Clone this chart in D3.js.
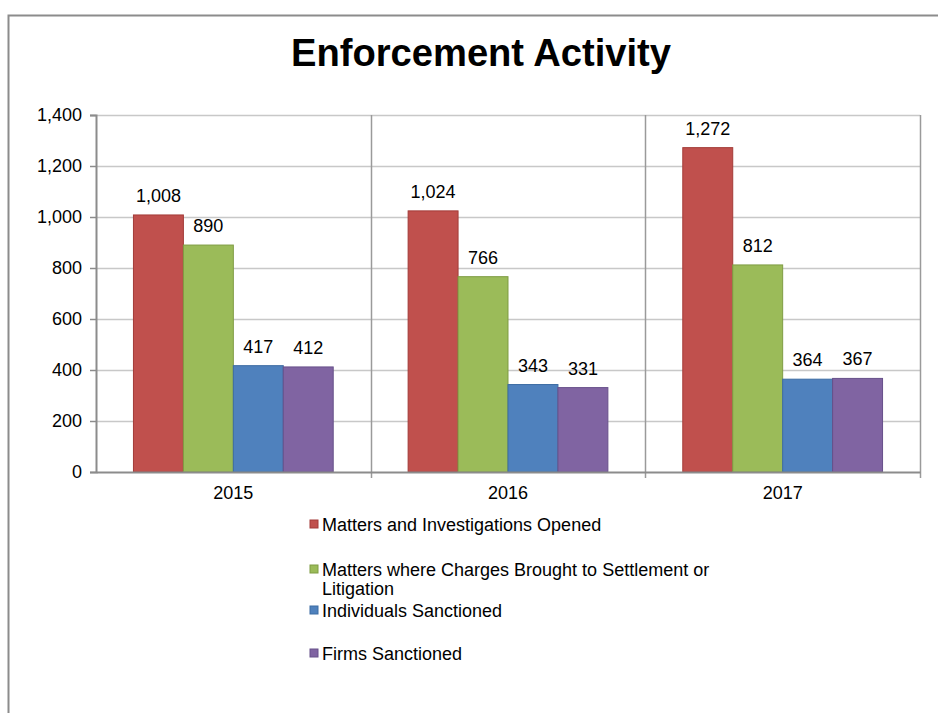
<!DOCTYPE html>
<html>
<head>
<meta charset="utf-8">
<script src="https://cdn.jsdelivr.net/npm/d3@7"></script>
<style>
  body { margin: 0; background: #fff; }
  text { font-family: "Liberation Sans", Arial, sans-serif; fill: #000; }
</style>
</head>
<body>
<div id="chart"></div>
<script>
// data
var years = ["2015", "2016", "2017"];
var seriesNames = [
  "Matters and Investigations Opened",
  "Matters where Charges Brought to Settlement or Litigation",
  "Individuals Sanctioned",
  "Firms Sanctioned"
];
var opened = [1008, 1024, 1272];
var charges = [890, 766, 812];
var individuals = [417, 343, 364];
var firms = [412, 331, 367];
var yTicks = [0, 200, 400, 600, 800, 1000, 1200, 1400];
var colors = ["#c0504d", "#9bbb59", "#4f81bd", "#8064a2"];
var strokes = ["#a33b38", "#7f9c43", "#3d6ca3", "#67508a"];

var width = 938, height = 713;
var margin = ({top: 115, right: 18, bottom: 241, left: 96});
var fs = '18px';

var allSeries = [opened, charges, individuals, firms];

var svg = d3.select('#chart')
  .append('svg')
    .attr('width', width)
    .attr('height', height);

// outer frame (left + top only)
svg.append('path')
  .attr('d', `M8.5,${height} L8.5,15.5 L${width},15.5`)
  .attr('fill', 'none')
  .attr('stroke', '#8c8c8c')
  .attr('stroke-width', 2);

svg.append('text')
  .attr('x', 481)
  .attr('y', 66)
  .attr('text-anchor', 'middle')
  .attr('font-size', '38px')
  .attr('font-weight', 'bold')
  .attr('textLength', 380)
  .attr('lengthAdjust', 'spacingAndGlyphs')
  .text('Enforcement Activity');

var x = d3.scaleBand()
  .domain(years)
  .range([margin.left, width - margin.right]);

var x1 = d3.scaleBand()
  .domain(d3.range(4))
  .range([0, x.bandwidth()])
  .paddingOuter(0.75)
  .paddingInner(0);

var y = d3.scaleLinear()
  .domain([0, 1400])
  .range([height - margin.bottom, margin.top]);

// horizontal gridlines
svg.append('g')
  .selectAll('line')
  .data(yTicks.slice(1))
  .join('line')
    .attr('x1', margin.left)
    .attr('x2', width - margin.right)
    .attr('y1', d => Math.round(y(d)) + 0.5)
    .attr('y2', d => Math.round(y(d)) + 0.5)
    .attr('stroke', '#c8c8c8')
    .attr('stroke-width', 1.5);

// vertical category separators
var seps = years.map(d => x(d)).concat([width - margin.right]).slice(1);
svg.append('g')
  .selectAll('line')
  .data(seps)
  .join('line')
    .attr('x1', d => Math.round(d) + 0.5)
    .attr('x2', d => Math.round(d) + 0.5)
    .attr('y1', margin.top)
    .attr('y2', height - margin.bottom + 6)
    .attr('stroke', '#9a9a9a')
    .attr('stroke-width', 1.5);

// bars
var groups = svg.append('g')
  .selectAll('g')
  .data(years)
  .join('g')
    .attr('transform', d => `translate(${x(d)},0)`);

groups.selectAll('rect')
  .data((d, i) => allSeries.map((s, k) => ({k: k, v: s[i]})))
  .join('rect')
    .attr('x', d => x1(d.k))
    .attr('y', d => y(d.v))
    .attr('width', x1.bandwidth())
    .attr('height', d => y(0) - y(d.v))
    .attr('fill', d => colors[d.k])
    .attr('stroke', d => strokes[d.k])
    .attr('stroke-width', 1);

groups.selectAll('text')
  .data((d, i) => allSeries.map((s, k) => ({k: k, v: s[i]})))
  .join('text')
    .attr('x', d => x1(d.k) + x1.bandwidth() / 2)
    .attr('y', d => y(d.v) - 13)
    .attr('text-anchor', 'middle')
    .attr('font-size', fs)
    .text(d => d3.format(',')(d.v));

// y-axis
var yAxis = svg.append('g')
  .attr('transform', `translate(${margin.left},0)`)
  .call(d3.axisLeft(y).tickValues(yTicks).tickFormat(d3.format(',')).tickSize(6).tickPadding(8));
yAxis.select('.domain').attr('stroke', '#8c8c8c').attr('stroke-width', 2);
yAxis.selectAll('.tick line').attr('stroke', '#8c8c8c').attr('stroke-width', 1.5);
yAxis.selectAll('.tick text').attr('font-size', fs).attr('font-family', '"Liberation Sans", Arial, sans-serif').attr('fill', '#000');

// x-axis
var xAxis = svg.append('g')
  .attr('transform', `translate(0,${height - margin.bottom})`)
  .call(d3.axisBottom(x).tickSize(0).tickPadding(14));
xAxis.select('.domain').attr('stroke', '#8c8c8c').attr('stroke-width', 2);
xAxis.selectAll('.tick text').attr('font-size', fs).attr('font-family', '"Liberation Sans", Arial, sans-serif').attr('fill', '#000');

// legend
var legendRows = [
  {lines: ["Matters and Investigations Opened"], y: 525},
  {lines: ["Matters where Charges Brought to Settlement or", "Litigation"], y: 570},
  {lines: ["Individuals Sanctioned"], y: 611},
  {lines: ["Firms Sanctioned"], y: 654}
];
var legend = svg.append('g')
  .selectAll('g')
  .data(legendRows)
  .join('g');

legend.append('rect')
  .attr('x', 310)
  .attr('y', d => d.y - 5)
  .attr('width', 8)
  .attr('height', 8)
  .attr('fill', (d, i) => colors[i])
  .attr('stroke', (d, i) => strokes[i]);

legend.append('text')
  .attr('x', 322)
  .attr('y', d => d.y + 6)
  .attr('font-size', fs)
  .selectAll('tspan')
  .data(d => d.lines)
  .join('tspan')
    .attr('x', 322)
    .attr('dy', (d, i) => i === 0 ? 0 : 19)
    .text(d => d);
</script>
</body>
</html>
